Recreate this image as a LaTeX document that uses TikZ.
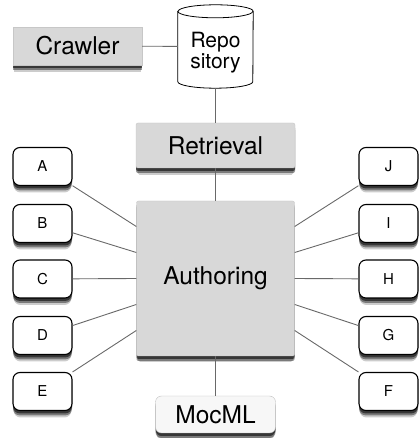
\documentclass[tikz,border=0pt]{standalone}
\usepackage{fontspec}
\setmainfont{TeX Gyre Heros}
\usepackage{tikz}
\usepackage{xcolor}
\usetikzlibrary{shadows,backgrounds}
\definecolor{gris}{RGB}{216,216,216}
\definecolor{grisclair}{RGB}{247,247,247}
\definecolor{trait}{RGB}{105,105,105}
\tikzset{
Ombre/.style={
 drop shadow={shadow xshift=0pt,shadow yshift=-7.5pt,shadow scale=0.98,fill=black,opacity=0.2},
 drop shadow={shadow xshift=0pt,shadow yshift=-5pt,fill=black,opacity=0.4},
 drop shadow={shadow xshift=0pt,shadow yshift=-3pt,fill=black,opacity=0.55}
 },
GBoite/.style={
 fill=gris,
 draw=gris!92!black,
 rounded corners=2pt,
 Ombre,
 font=\fontsize{24.5}{28}\selectfont
 },
Lettre/.style={
 draw=black,
 fill=white,
 line width=1.1pt,
 rounded corners=7pt,
 minimum width=59pt,
 minimum height=38pt,
 Ombre,
 font=\fontsize{15}{18}\selectfont
 },
Lien/.style={
 draw=trait,
 line width=0.9pt
 },
Bord/.style={
 x radius=37.5pt,
 y radius=6.5pt
 }
}
\begin{document}
\begin{tikzpicture}[x=1pt,y=1pt]
\useasboundingbox (0,0) rectangle (419,438);
\node[GBoite,rounded corners=0pt,minimum width=129pt,minimum height=38pt] (crawler) at (77.5,392) {Crawler};
\node[minimum width=75pt,minimum height=83pt,
 label={[yshift=-6pt,align=center,font=\fontsize{21}{20.5}\selectfont]center:Repo\\sitory}] (repo) at (215.5,391.5) {};
\begin{scope}[on background layer]
\filldraw[draw=black,fill=white,line width=0.8pt] ([yshift=-6.5pt]repo.north west) -- ([yshift=6.5pt]repo.south west)
 arc[Bord,start angle=180,end angle=360] -- ([yshift=-6.5pt]repo.north east)
 arc[Bord,start angle=0,end angle=180] -- cycle;
\draw[line width=0.8pt] ([yshift=-6.5pt]repo.north west) arc[Bord,start angle=180,end angle=360];
\end{scope}
\node[GBoite,minimum width=159pt,minimum height=45pt] (retrieval) at (215.5,292.5) {Retrieval};
\node[GBoite,minimum width=158pt,minimum height=155pt] (authoring) at (215.5,159.5) {Authoring};
\node[GBoite,fill=grisclair,draw=gray!50,rounded corners=6pt,minimum width=120pt,minimum height=37pt] (mocml) at (215.5,23.5) {MocML};
\node[Lettre] (A) at (42.5,271.5) {A};
\node[Lettre] (B) at (42.5,214.5) {B};
\node[Lettre] (C) at (42.5,159) {C};
\node[Lettre] (D) at (42.5,102.5) {D};
\node[Lettre] (E) at (42.5,46.5) {E};
\node[Lettre] (J) at (388.5,271.5) {J};
\node[Lettre] (I) at (388.5,214.5) {I};
\node[Lettre] (H) at (388.5,159) {H};
\node[Lettre] (G) at (388.5,102.5) {G};
\node[Lettre] (F) at (388.5,46.5) {F};
\draw[Lien] (crawler) -- (repo);
\draw[Lien] (repo) -- (retrieval);
\draw[Lien] (retrieval) -- (authoring);
\draw[Lien] (authoring) -- (mocml);
\draw[Lien] ([yshift=52pt]authoring.west) -- (A);
\draw[Lien] ([yshift=26pt]authoring.west) -- (B);
\draw[Lien] (authoring.west) -- (C);
\draw[Lien] ([yshift=-26pt]authoring.west) -- (D);
\draw[Lien] ([yshift=-52pt]authoring.west) -- (E);
\draw[Lien] ([yshift=52pt]authoring.east) -- (J);
\draw[Lien] ([yshift=26pt]authoring.east) -- (I);
\draw[Lien] (authoring.east) -- (H);
\draw[Lien] ([yshift=-26pt]authoring.east) -- (G);
\draw[Lien] ([yshift=-52pt]authoring.east) -- (F);
\end{tikzpicture}
\end{document}
